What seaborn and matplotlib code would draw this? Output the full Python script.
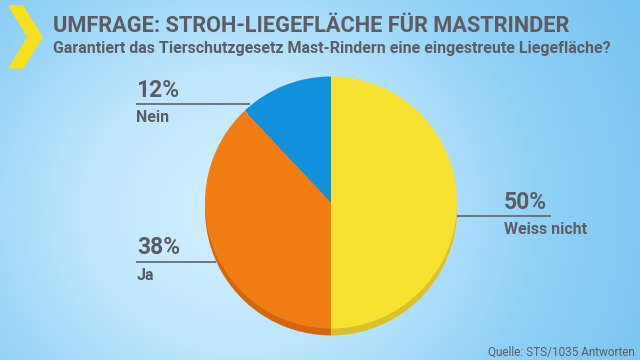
import numpy as np
import matplotlib
matplotlib.use("Agg")
import matplotlib.pyplot as plt
import seaborn as sns
from matplotlib.colors import LinearSegmentedColormap
from matplotlib.patches import Polygon

# data (counterclockwise from 12 o'clock)
labels = ["Nein", "Ja", "Weiss nicht"]
shares = [12, 38, 50]
colors = ["#1190dc", "#f07e14", "#f7e231"]
shadow_colors = ["#0d74b3", "#d2670f", "#d8c12a"]

title = "UMFRAGE: STROH-LIEGEFLÄCHE FÜR MASTRINDER"
subtitle = "Garantiert das Tierschutzgesetz Mast-Rindern eine eingestreute Liegefläche?"
source = "Quelle: STS/1035 Antworten"

sns.set_style("white")
plt.rcParams["font.family"] = ["Roboto", "DejaVu Sans"]
grey = "#5c5d63"

fig = plt.figure(figsize=(6.4, 3.6), dpi=100)

# background in pixel coordinates
bg = fig.add_axes([0, 0, 1, 1])
bg.set_xlim(0, 640)
bg.set_ylim(360, 0)
bg.axis("off")
yy, xx = np.mgrid[0:360, 0:640]
dist = np.sqrt((xx - 240) ** 2 + ((yy - 210) / 0.9) ** 2)
cmap = LinearSegmentedColormap.from_list("bg", ["#d3f0ff", "#bfe6fd", "#8fd0f6", "#78c4f1"])
bg.imshow(dist / dist.max(), cmap=cmap, extent=(0, 640, 360, 0), aspect="auto", zorder=0)

# chevron
bg.add_patch(Polygon([(9, 6), (23, 6), (42, 37), (23, 68), (9, 68), (28, 37)],
                     closed=True, color="#f5df1e", zorder=2))

bg.text(53, 32, title, fontsize=15.7, fontweight="bold", color=grey, va="baseline", zorder=3)
bg.text(53, 53, subtitle, fontsize=11.5, fontweight="bold", color=grey, va="baseline", zorder=3)
bg.text(635, 356, source, fontsize=8.5, color=grey, ha="right", va="baseline", zorder=3)

# leader lines and labels
lines = [((136, 250), 104), ((136, 216), 262), ((457, 551), 216)]
pct_pos = [(136, 97), (137, 254), (504, 209)]
lab_pos = [(136, 122), (137, 280), (504, 234)]
for (xs, y), (px, py), (lx, ly), lab, val in zip(lines, pct_pos, lab_pos, labels, shares):
    bg.plot(xs, [y, y], color="#6a6b70", lw=1.3, zorder=1, solid_capstyle="butt")
    bg.text(px, py, f"{val}%", fontsize=16.5, fontweight="bold", color=grey, va="baseline", zorder=3)
    bg.text(lx, ly, lab, fontsize=11.5, fontweight="bold", color=grey, va="baseline", zorder=3)

# pie axes: centre (331, 202.5) px, radius 126 px
cx, cy, r = 331, 202.5, 126
lim = 1.12
size = 2 * lim * r
pie_ax = fig.add_axes([(cx - size / 2) / 640, (360 - cy - size / 2) / 360, size / 640, size / 360])
pie_ax.pie(shares, colors=shadow_colors, startangle=90, radius=1, center=(0, -0.055),
           wedgeprops=dict(linewidth=0))
pie_ax.pie(shares, colors=colors, startangle=90, radius=1,
           wedgeprops=dict(linewidth=0))
pie_ax.set_xlim(-lim, lim)
pie_ax.set_ylim(-lim, lim)
pie_ax.axis("off")
pie_ax.patch.set_alpha(0)

fig.savefig("out.png", dpi=100)
